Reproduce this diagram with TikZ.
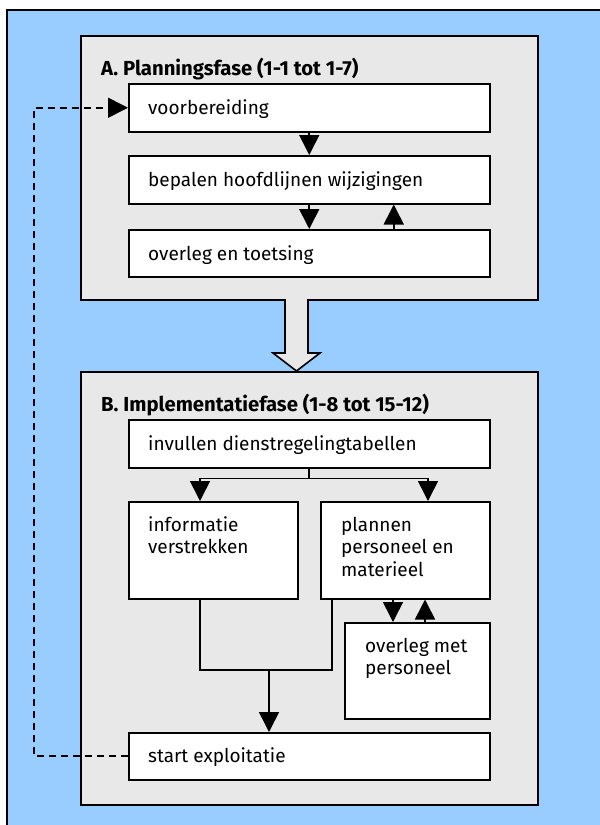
\documentclass[tikz,border=0pt]{standalone}
\usepackage{fontspec}
\setmainfont{Fira Sans}
\usetikzlibrary{arrows.meta,calc}
\definecolor{skyblue}{RGB}{153,204,255}
\definecolor{panelgray}{RGB}{232,232,232}

\begin{document}
\begin{tikzpicture}[x=1pt,y=-1pt,
  panel/.style={draw=black, fill=panelgray, line width=1.5pt, inner sep=0pt, anchor=north west},
  box/.style={draw=black, fill=white, line width=1.5pt, inner sep=0pt, anchor=north west},
  lbl/.style={anchor=base west, inner sep=0pt, font=\fontsize{19}{22.5}\selectfont, align=left},
  ttl/.style={anchor=base west, inner sep=0pt, font=\fontsize{20.3}{22}\selectfont\bfseries},
  line/.style={draw=black, line width=1.6pt},
  arr/.style={line, -{Triangle[width=20pt,length=20pt]}},
  dashline/.style={arr, dash pattern=on 7pt off 5pt}
]
% canvas
\path[use as bounding box] (0,0) rectangle (600,825);
\draw[fill=skyblue, line width=1.5pt] (7,10) rectangle (602,827);

% phase panels
\node[panel, minimum width=457pt, minimum height=264pt] (pA) at (80,35) {};
\node[panel, minimum width=457pt, minimum height=433pt] (pB) at (80,371) {};
\node[ttl] (tA) at (101,75) {A. Planningsfase (1-1 tot 1-7)};
\node[ttl] (tB) at (101,411) {B. Implementatiefase (1-8 tot 15-12)};

% hollow arrow between the phases
\draw[line, fill=panelgray, line join=miter]
  (285,299) -- (285,353) -- (273,353) -- (296.5,371) -- (320,353) -- (308,353) -- (308,299);

% steps of phase A
\node[box, minimum width=361pt, minimum height=48pt] (voor) at (128,83) {};
\node[box, minimum width=361pt, minimum height=48pt] (bep) at (128,155) {};
\node[box, minimum width=361pt, minimum height=47pt] (ovl) at (128,229) {};
\node[lbl] (lvoor) at ($(voor.north west)+(20,31)$) {voorbereiding};
\node[lbl] (lbep) at ($(bep.north west)+(20,31)$) {bepalen hoofdlijnen wijzigingen};
\node[lbl] (lovl) at ($(ovl.north west)+(20,31)$) {overleg en toetsing};

% steps of phase B (multi-line labels sit on the baseline of their last line)
\node[box, minimum width=361pt, minimum height=48pt] (inv) at (128,419) {};
\node[box, minimum width=169pt, minimum height=97pt] (info) at (128,501) {};
\node[box, minimum width=169pt, minimum height=97pt] (plan) at (320,501) {};
\node[box, minimum width=145pt, minimum height=96pt] (ovm) at (344,622) {};
\node[box, minimum width=361pt, minimum height=47pt] (start) at (128,732) {};
\node[lbl] (linv) at ($(inv.north west)+(20,31)$) {invullen dienstregelingtabellen};
\node[lbl] (linfo) at ($(info.north west)+(20,52.5)$) {informatie\\verstrekken};
\node[lbl] (lplan) at ($(plan.north west)+(21,75)$) {plannen\\personeel en\\materieel};
\node[lbl] (lovm) at ($(ovm.north west)+(21,52.5)$) {overleg met\\personeel};
\node[lbl] (lstart) at ($(start.north west)+(20,30)$) {start exploitatie};

% connectors in phase A
\draw[arr] (voor.south) -- (bep.north);
\draw[arr] (bep.south) -- (ovl.north);
\draw[arr] ([xshift=84.5pt]ovl.north) -- ([xshift=84.5pt]bep.south);

% connectors in phase B
\coordinate (split) at ($(inv.south)+(0,10)$);
\draw[line] (inv.south) -- (split);
\draw[arr] (split) -| ([xshift=72pt]info.north west);
\draw[arr] (split) -| ([xshift=108pt]plan.north west);
\draw[arr] ([xshift=73pt]plan.south west) -- ([xshift=49pt]ovm.north west);
\draw[arr] ([xshift=81pt]ovm.north west) -- ([xshift=105pt]plan.south west);
\coordinate (merge) at (269,670);
\draw[line] ([xshift=72pt]info.south west) |- (merge) -| ([xshift=12pt]plan.south west);
\draw[arr] (merge) -- (merge |- start.north);

% feedback loop back to the start
\draw[dashline] (start.west) -- ++(-94,0) |- (voor.west);
\end{tikzpicture}
\end{document}
